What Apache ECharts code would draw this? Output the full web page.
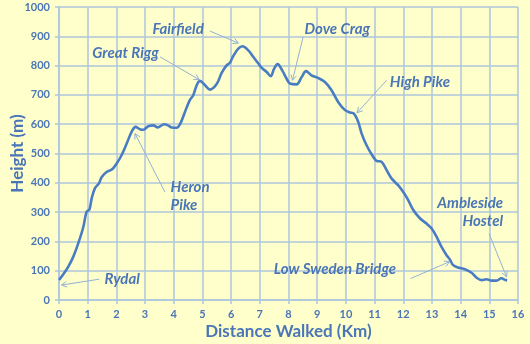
<!DOCTYPE html>
<html>
<head>
<meta charset="utf-8">
<script src="https://cdn.jsdelivr.net/npm/echarts@6/dist/echarts.min.js"></script>
<style>
  html, body { margin: 0; padding: 0; background: #FFFFCC; }
  #chart { width: 530px; height: 344px; }
</style>
</head>
<body>
<div id="chart"></div>
<script>
// Walk profile: distance from the start (km) and height above sea level (m)
const distanceKm = [
  0.0, 0.15, 0.32, 0.5, 0.67, 0.85, 0.96, 1.06, 1.14, 1.25, 1.39, 1.49, 1.66, 1.84,
  2.01, 2.18, 2.36, 2.53, 2.67, 2.82, 2.94, 3.11, 3.29, 3.44, 3.67, 3.8, 3.93, 4.1,
  4.22, 4.39, 4.56, 4.68, 4.8, 4.91, 5.09, 5.26, 5.49, 5.67, 5.84, 5.96, 6.07, 6.25,
  6.4, 6.6, 6.77, 6.95, 7.06, 7.24, 7.38, 7.5, 7.62, 7.79, 7.93, 8.05, 8.28, 8.46,
  8.61, 8.8, 9.03, 9.27, 9.5, 9.73, 9.97, 10.14, 10.28, 10.43, 10.55, 10.72, 10.95,
  11.07, 11.24, 11.42, 11.59, 11.82, 12.0, 12.14, 12.35, 12.58, 12.81, 12.99, 13.16,
  13.33, 13.51, 13.62, 13.74, 13.91, 14.15, 14.38, 14.55, 14.73, 14.9, 15.08, 15.25,
  15.42, 15.57, 15.62
];
const heightM = [
  68, 88, 113, 148, 193, 250, 301, 309, 347, 381, 398, 420, 437, 445,
  466, 494, 534, 574, 591, 583, 581, 593, 596, 589, 600, 596, 589, 588,
  600, 642, 682, 699, 733, 748, 733, 718, 736, 775, 801, 810, 832, 858,
  866, 852, 830, 807, 793, 778, 764, 790, 805, 782, 756, 739, 736, 761,
  781, 767, 758, 744, 716, 676, 648, 640, 636, 608, 568, 528, 489,
  475, 472, 443, 415, 392, 369, 347, 307, 279, 261, 244, 216,
  182, 153, 139, 119, 111, 105, 93, 77, 68, 71, 66, 66,
  74, 68, 67
];

// Axis ticks
const xTicks = [0, 16, 1];      // min, max, interval (km)
const yTicks = [0, 1000, 100];  // min, max, interval (m)

// Named places along the route: label lines, text anchor [km, m],
// arrow tail [km, m], arrow tip [km, m], text alignment
const placeNames = [
  ['Fairfield'], ['Great Rigg'], ['Dove Crag'], ['High Pike'],
  ['Heron', 'Pike'], ['Rydal'], ['Low Sweden Bridge'], ['Ambleside', 'Hostel']
];
const placeTextAt = [
  [4.15, 925], [2.32, 843], [9.70, 926], [12.58, 744],
  [3.89, 354], [2.20, 71], [9.62, 105], [15.48, 299]
];
const placeArrowFrom = [
  [5.26, 918], [3.52, 830], [8.51, 898], [11.42, 750],
  [3.69, 369], [1.40, 71], [12.25, 73], [14.99, 227]
];
const placeArrowTo = [
  [6.25, 877], [4.89, 752], [8.14, 750], [10.39, 639],
  [2.65, 568], [0.09, 51], [13.62, 131], [15.60, 79]
];
const placeAlign = ['center', 'center', 'center', 'center', 'left', 'center', 'center', 'right'];

const ink = '#4A76B8';
const gridColor = '#AFC6DD';
const arrowColor = '#93B1D6';
const font = 'Lato, "Open Sans", sans-serif';

const chart = echarts.init(document.getElementById('chart'));

chart.setOption({
  backgroundColor: '#FFFFCC',
  animation: false,
  grid: { left: 59, right: 12, top: 7, bottom: 44, containLabel: false, outerBoundsMode: 'none' },
  xAxis: {
    type: 'value',
    min: xTicks[0], max: xTicks[1], interval: xTicks[2],
    name: 'Distance Walked (Km)',
    nameLocation: 'middle',
    nameGap: 23,
    nameMoveOverlap: false,
    nameTextStyle: { color: ink, fontFamily: font, fontWeight: 'bold', fontSize: 17 },
    axisLine: { show: true, lineStyle: { color: gridColor, width: 1.5 } },
    axisTick: { show: true, length: 4, lineStyle: { color: gridColor, width: 1.5 } },
    axisLabel: { color: ink, fontFamily: font, fontWeight: 'bold', fontSize: 11, margin: 9 },
    splitLine: { show: true, lineStyle: { color: gridColor, width: 1.5 } }
  },
  yAxis: {
    type: 'value',
    min: yTicks[0], max: yTicks[1], interval: yTicks[2],
    name: 'Height (m)',
    nameLocation: 'middle',
    nameGap: 33,
    nameMoveOverlap: false,
    nameTextStyle: { color: ink, fontFamily: font, fontWeight: 'bold', fontSize: 17 },
    axisLine: { show: true, lineStyle: { color: gridColor, width: 1.5 } },
    axisTick: { show: true, length: 4, lineStyle: { color: gridColor, width: 1.5 } },
    axisLabel: {
      color: ink, fontFamily: font, fontWeight: 'bold', fontSize: 11, margin: 9,
      formatter: v => String(v)
    },
    splitLine: { show: true, lineStyle: { color: gridColor, width: 1.5 } }
  },
  series: [{
    type: 'line',
    data: distanceKm.map((d, i) => [d, heightM[i]]),
    smooth: 0.35,
    showSymbol: false,
    lineStyle: { color: '#4A7CC4', width: 2.6 }
  }]
});

// Place-name callouts with thin open-headed arrows
const graphics = [];
placeNames.forEach((lines, i) => {
  const t = chart.convertToPixel({ gridIndex: 0 }, placeTextAt[i]);
  lines.forEach((line, k) => {
    graphics.push({
      type: 'text',
      x: t[0],
      y: t[1] + (k - (lines.length - 1) / 2) * 18,
      style: {
        text: line,
        fill: ink,
        font: 'italic bold 15px ' + font,
        textAlign: placeAlign[i],
        textVerticalAlign: 'middle'
      },
      z: 10
    });
  });
  const a = chart.convertToPixel({ gridIndex: 0 }, placeArrowFrom[i]);
  const b = chart.convertToPixel({ gridIndex: 0 }, placeArrowTo[i]);
  const ang = Math.atan2(b[1] - a[1], b[0] - a[0]);
  const head = 6, spread = 0.5;
  graphics.push({
    type: 'line',
    shape: { x1: a[0], y1: a[1], x2: b[0], y2: b[1] },
    style: { stroke: arrowColor, lineWidth: 1 },
    z: 9
  });
  graphics.push({
    type: 'polyline',
    shape: {
      points: [
        [b[0] - head * Math.cos(ang - spread), b[1] - head * Math.sin(ang - spread)],
        [b[0], b[1]],
        [b[0] - head * Math.cos(ang + spread), b[1] - head * Math.sin(ang + spread)]
      ]
    },
    style: { stroke: arrowColor, lineWidth: 1, fill: null },
    z: 9
  });
});
chart.setOption({ graphic: graphics });
</script>
</body>
</html>
